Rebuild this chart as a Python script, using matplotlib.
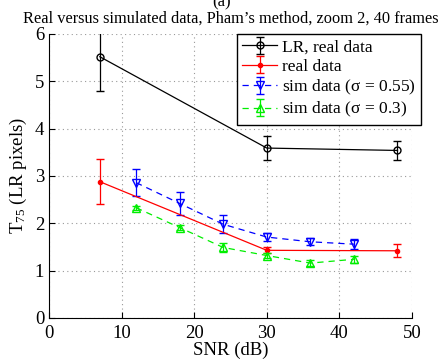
import matplotlib
matplotlib.use('Agg')
import matplotlib.pyplot as plt

plt.rcParams['font.family'] = ['Liberation Serif', 'DejaVu Serif']
plt.rcParams['mathtext.fontset'] = 'custom'
plt.rcParams['mathtext.rm'] = 'Liberation Serif'
plt.rcParams['mathtext.it'] = 'Liberation Serif'

# data
snr_real = [7, 30, 48]
lr_real = [5.52, 3.59, 3.54]
lr_real_err = [0.72, 0.25, 0.21]
hr_real = [2.88, 1.43, 1.42]
hr_real_err = [0.48, 0.06, 0.14]

snr_sim = [12, 18, 24, 30, 36, 42]
sim_055 = [2.86, 2.42, 1.98, 1.71, 1.61, 1.56]
sim_055_err = [0.28, 0.24, 0.19, 0.09, 0.07, 0.10]
sim_03 = [2.33, 1.91, 1.49, 1.32, 1.16, 1.24]
sim_03_err = [0.04, 0.06, 0.09, 0.06, 0.07, 0.08]

fig = plt.figure(figsize=(4.44, 3.61), dpi=100)
ax = fig.add_axes([49/444, 1-318/361, (412-49)/444, (318-34)/361])

ax.errorbar(snr_real, lr_real, yerr=lr_real_err, color='black', marker='o', mfc='none',
	ms=5, lw=0.9, capsize=3, label='LR, real data')
ax.errorbar(snr_real, hr_real, yerr=hr_real_err, color='red', marker='.', ms=6,
	lw=0.9, capsize=3, label='real data')
ax.errorbar(snr_sim, sim_055, yerr=sim_055_err, color='blue', marker='v', mfc='none',
	ms=6, lw=0.9, ls='--', dashes=(5, 4), capsize=3, label='sim data ($\\sigma$ = 0.55)')
ax.errorbar(snr_sim, sim_03, yerr=sim_03_err, color='#00ee00', marker='^', mfc='none',
	ms=6, lw=0.9, ls='--', dashes=(5, 4), capsize=3, label='sim data ($\\sigma$ = 0.3)')

ax.set_xlim(0, 50)
ax.set_ylim(0, 6)
ax.set_xticks(range(0, 51, 10))
ax.set_yticks(range(0, 7))
ax.tick_params(direction='in', labelsize=13.5, length=4)
ax.tick_params(axis='x', pad=5)
ax.grid(True, ls=(0, (1, 3)), color='#999999', lw=0.8)
ax.spines['top'].set_visible(False)
ax.spines['right'].set_visible(False)

ax.set_xlabel('SNR (dB)', fontsize=13.5, labelpad=0)
ax.set_ylabel('T$_{75}$ (LR pixels)', fontsize=13.5, labelpad=4)
ax.set_title('Real versus simulated data, Pham\u2019s method, zoom 2, 40 frames', fontsize=11.8, pad=8)
fig.text(0.5, 1 - 2/361, '(a)', ha='center', va='center', fontsize=12)

leg = ax.legend(loc='upper left', bbox_to_anchor=(237/444, 1-34/361), bbox_transform=fig.transFigure,
	fontsize=12.5, fancybox=False, framealpha=1, edgecolor='black', borderpad=0.3,
	labelspacing=0.18, handlelength=2.0, handletextpad=0.3, borderaxespad=0)
leg.get_frame().set_linewidth(1.0)

fig.savefig('out.png', dpi=100)
